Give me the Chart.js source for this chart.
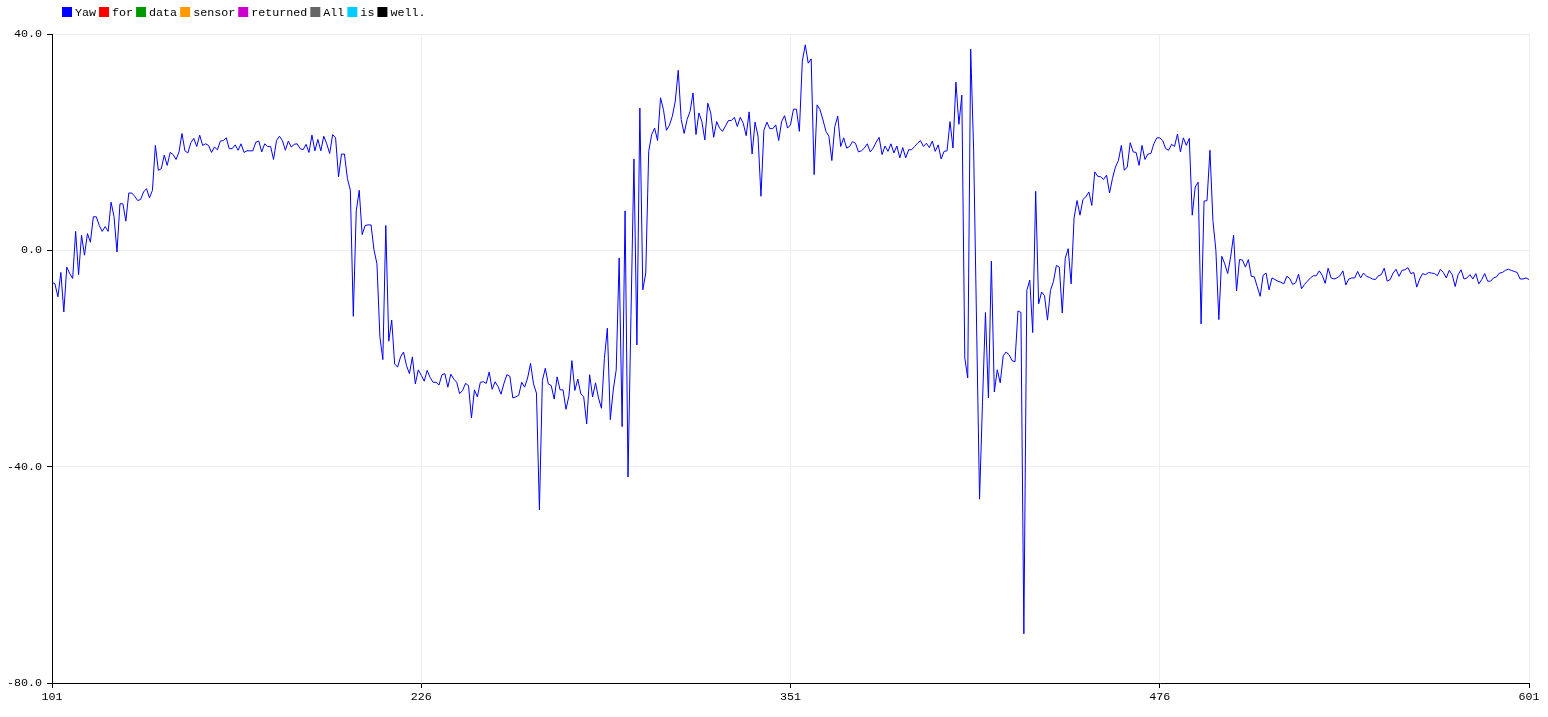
<!DOCTYPE html>
<html>
<head>
<meta charset="utf-8">
<script src="https://cdn.jsdelivr.net/npm/chart.js@4.4.0/dist/chart.umd.min.js"></script>
<style>
    body { margin: 0; background: #fff; }
    #wrap { width: 1548px; height: 717px; }
</style>
</head>
<body>
<div id="wrap"><canvas id="plotterChart"></canvas></div>
<script>
// sample counter of the first point on screen
const xStart = 101;
const xTicks = [101, 226, 351, 476, 601];
const yTicks = [-80, -40, 0, 40];

// legend names as the plotter parsed them, only Yaw carries values
const seriesNames = ['Yaw', 'for', 'data', 'sensor', 'returned', 'All', 'is', 'well.'];
const seriesColors = ['#0000ff', '#ff0000', '#009900', '#ff9900', '#cc00cc', '#666666', '#00ccff', '#000000'];

const yawValues = [
    -5.9, -6.2, -8.6, -4.1, -11.4, -3.1, -4.3, -5.2, 3.5, -4.5,
    2.8, -0.9, 3.1, 1.5, 6.2, 6.2, 4.6, 3.5, 4.4, 3.5,
    8.9, 6.2, -0.3, 8.6, 8.6, 5.4, 10.6, 10.6, 10.0, 9.2,
    9.4, 10.8, 11.4, 9.7, 11.1, 19.4, 14.8, 15.1, 17.6, 15.7,
    18.1, 17.7, 16.8,
    18.2, 21.6, 18.4, 18.0, 19.9, 20.7, 19.2, 21.3, 19.4, 19.7,
    19.4, 18.1, 19.1, 18.6, 20.2, 20.3, 20.8, 18.8, 18.8, 19.5,
    18.5, 19.7, 18.1, 18.4, 18.4, 18.4, 20.0, 20.2, 18.2, 19.7,
    19.2, 19.2, 16.8, 20.3, 21.1, 20.3, 18.5, 20.2, 19.1, 19.6,
    19.7, 18.8, 18.6,
    19.6, 18.1, 21.3, 18.4, 20.5, 18.4, 21.1, 19.7, 17.9, 21.4,
    20.8, 13.6, 17.8, 17.8, 13.3, 11.1, -12.2, 7.3, 11.1, 2.9,
    4.6, 4.7, 4.7, 0.1, -2.5, -16.0, -20.2, 4.6, -16.8, -12.9,
    -21.0, -21.6, -19.7, -18.8, -21.3, -22.8, -19.7, -24.7, -22.1, -23.1,
    -24.2, -22.2, -23.5,
    -24.4, -24.4, -24.9, -23.0, -22.8, -25.3, -22.9, -23.8, -24.4, -26.5,
    -25.9, -24.6, -25.0, -31.0, -25.8, -27.1, -24.4, -24.3, -24.6, -22.5,
    -25.7, -24.3, -25.2, -26.6, -24.6, -23.0, -23.3, -27.3, -27.1, -26.8,
    -24.4, -25.3, -23.6, -20.9, -24.7, -26.4, -48.0, -24.1, -21.8, -24.7,
    -25.0, -27.5,
    -23.4, -25.8, -25.8, -29.4, -26.9, -20.4, -25.9, -23.8, -26.5, -27.1,
    -32.1, -23.0, -27.1, -24.5, -27.3, -29.2, -20.0, -14.4, -31.3, -25.8,
    -22.1, -1.4, -32.6, 7.3, -41.9, -12.0, 16.9, -17.5, 26.3, -7.3,
    -4.2, 18.3, 21.4, 22.6, 20.3, 28.2, 26.0, 22.2, 23.1, 24.8,
    27.6, 33.3,
    24.2, 21.6, 24.2, 25.7, 29.1, 21.4, 25.4, 23.8, 20.4, 27.2,
    25.4, 20.9, 23.8, 22.6, 22.0, 23.0, 24.0, 24.0, 24.6, 22.9,
    24.6, 23.5, 21.2, 25.6, 17.8, 23.7, 21.1, 10.0, 22.2, 23.7,
    22.5, 22.5, 23.2, 20.3, 23.8, 24.9, 22.6, 23.2, 26.1, 26.1,
    22.0, 35.0,
    38.0, 34.6, 35.4, 14.0, 26.9, 26.0, 24.1, 22.0, 21.1, 16.6,
    22.9, 24.8, 19.2, 20.8, 18.9, 19.2, 20.1, 19.8, 18.2, 18.4,
    18.9, 19.7, 18.2, 18.9, 20.0, 20.9, 17.7, 19.3, 18.3, 19.7,
    18.0, 19.3, 17.1, 19.0, 17.1, 18.6, 18.6, 19.2, 19.8, 20.3,
    19.2, 19.8,
    19.0, 20.2, 18.3, 19.5, 16.9, 18.3, 18.4, 23.8, 18.9, 31.1,
    23.3, 28.7, -19.9, -23.6, 37.2, 18.4, -14.0, -46.0, -28.0, -11.5,
    -27.3, -2.0, -26.2, -22.1, -24.5, -19.5, -18.8, -19.3, -20.4, -20.6,
    -11.2, -11.5, -70.9, -7.4, -5.5, -15.2, 10.9, -9.9, -7.7, -8.4,
    -12.9, -7.4, -5.8,
    -2.8, -3.1, -11.6, -1.5, 0.3, -6.2, 6.0, 9.2, 6.5, 9.4,
    9.9, 10.8, 8.3, 14.5, 13.7, 13.6, 13.1, 13.9, 10.6, 13.3,
    15.4, 16.6, 19.4, 14.8, 15.4, 19.9, 18.2, 18.1, 15.7, 19.4,
    16.8, 17.8, 17.9, 19.7, 20.8, 20.8, 20.3, 18.8, 18.5, 19.6,
    19.2, 21.5,
    18.2, 20.8, 19.4, 20.7, 6.5, 11.7, 12.6, -13.6, 9.1, 9.2,
    18.5, 5.5, 0.0, -12.8, -1.1, -2.5, -4.3, -1.2, 2.8, -7.5,
    -1.7, -1.8, -3.1, -1.7, -4.8, -4.9, -6.7, -8.5, -4.6, -4.2,
    -7.3, -5.1, -5.4, -5.7, -5.9, -6.2, -4.8, -5.2, -6.3, -6.0,
    -4.4, -7.1, -6.3,
    -5.7, -5.1, -4.7, -4.7, -3.8, -4.6, -6.1, -3.3, -5.1, -5.3,
    -5.1, -4.7, -3.8, -6.4, -5.3, -5.1, -5.1, -3.9, -5.1, -4.2,
    -4.8, -5.0, -5.3, -5.4, -4.7, -4.5, -3.3, -5.7, -5.4, -4.2,
    -3.5, -4.8, -3.7, -3.6, -3.2, -4.3, -4.1, -6.8, -5.3, -4.3,
    -4.5, -4.1, -4.2, -4.3, -4.7, -3.5, -4.1, -5.1, -3.7, -4.5,
    -6.7, -4.5, -3.6, -5.3, -5.1, -4.5, -5.3, -4.3, -6.2, -5.4,
    -4.3, -5.7, -5.7, -5.1, -4.9, -4.2, -4.1, -3.7, -3.5, -3.7,
    -3.9, -4.1, -5.3, -5.3, -5.1, -5.4
];

const monoFont = { family: '"Liberation Mono", "DejaVu Sans Mono", monospace', size: 11.7 };

// plotter style legend: small squares in a row at the top left
const plotterLegend = {
    id: 'plotterLegend',
    afterDraw(chart) {
        const ctx = chart.ctx;
        ctx.save();
        ctx.font = monoFont.size + 'px ' + monoFont.family;
        ctx.textBaseline = 'middle';
        let x = 62;
        chart.data.datasets.forEach(ds => {
            ctx.fillStyle = ds.borderColor;
            ctx.fillRect(x, 7, 10, 10);
            ctx.fillStyle = '#000';
            ctx.fillText(ds.label, x + 13, 12.5);
            x += 13 + ctx.measureText(ds.label).width + 3;
        });
        ctx.restore();
    }
};

const datasets = seriesNames.map((name, k) => ({
    label: name,
    data: k === 0 ? yawValues.map((v, i) => ({ x: xStart + i, y: v })) : [],
    borderColor: seriesColors[k],
    backgroundColor: seriesColors[k],
    borderWidth: 1,
    pointRadius: 0,
    tension: 0,
    fill: false
}));

new Chart(document.getElementById('plotterChart'), {
    type: 'line',
    data: { datasets: datasets },
    plugins: [plotterLegend],
    options: {
        responsive: true,
        maintainAspectRatio: false,
        animation: false,
        devicePixelRatio: 1,
        layout: { padding: { top: 34, right: 19, left: 0, bottom: 0 } },
        plugins: {
            legend: { display: false },
            tooltip: { enabled: false }
        },
        scales: {
            x: {
                type: 'linear',
                min: xTicks[0],
                max: xTicks[xTicks.length - 1],
                afterBuildTicks: scale => { scale.ticks = xTicks.map(v => ({ value: v })); },
                afterFit: scale => { scale.height = 34; },
                ticks: { color: '#000', font: monoFont, padding: 2, maxRotation: 0 },
                grid: { color: '#eeeeee', tickColor: '#000', tickLength: 5 },
                border: { color: '#000', width: 1 }
            },
            y: {
                min: yTicks[0],
                max: yTicks[yTicks.length - 1],
                afterBuildTicks: scale => { scale.ticks = yTicks.map(v => ({ value: v })); },
                afterFit: scale => { scale.width = 52; },
                ticks: { color: '#000', font: monoFont, padding: 5, callback: v => v.toFixed(1) },
                grid: { color: '#eeeeee', tickColor: '#000', tickLength: 5 },
                border: { color: '#000', width: 1 }
            }
        }
    }
});
</script>
</body>
</html>
